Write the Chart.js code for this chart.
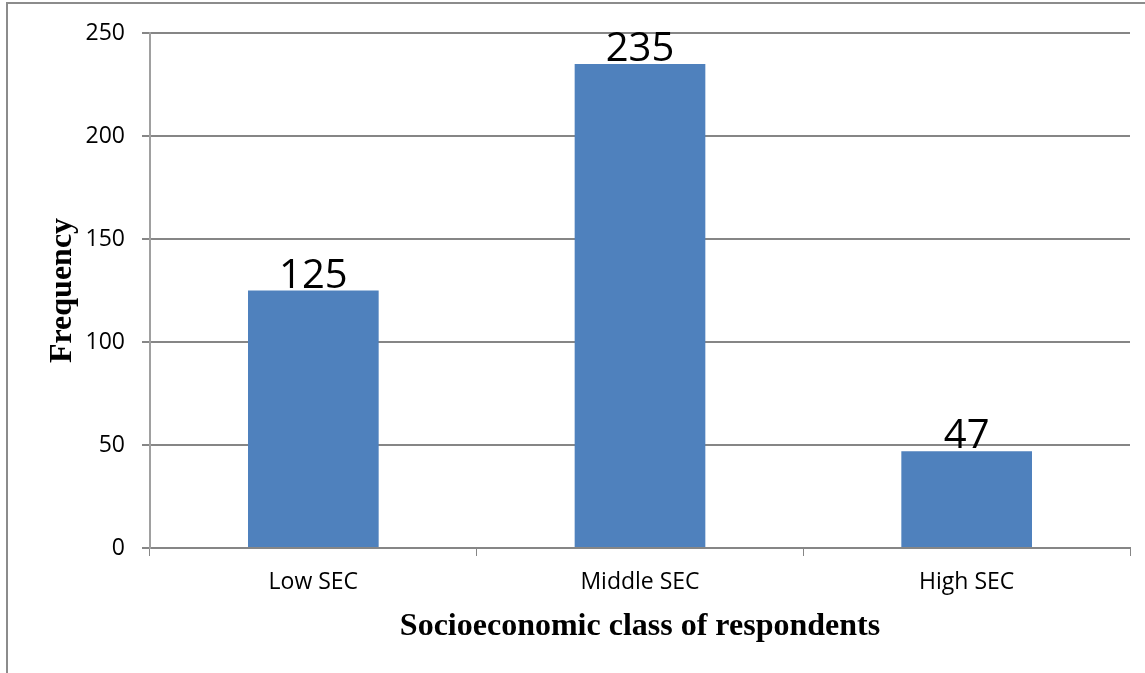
<!DOCTYPE html>
<html>
<head>
<meta charset="utf-8">
<script src="https://cdn.jsdelivr.net/npm/chart.js@4/dist/chart.umd.min.js"></script>
<style>
  html, body { margin: 0; padding: 0; background: #ffffff; }
  #wrap { width: 1145px; height: 673px; position: relative; }
</style>
</head>
<body>
<div id="wrap"><canvas id="c" width="1145" height="673"></canvas></div>
<script>
const categories = ['Low SEC', 'Middle SEC', 'High SEC'];
const frequency = [125, 235, 47];
const yTicks = [0, 50, 100, 150, 200, 250];
const xTitle = 'Socioeconomic class of respondents';
const yTitle = 'Frequency';

const frameLines = {
  id: 'frameLines',
  beforeDraw(chart) {
    const ctx = chart.ctx;
    ctx.save();
    ctx.strokeStyle = '#8c8c8c';
    ctx.lineWidth = 2;
    ctx.beginPath();
    ctx.moveTo(7, 673);
    ctx.lineTo(7, 3);
    ctx.lineTo(1145, 3);
    ctx.stroke();
    ctx.restore();
  }
};

const valueLabels = {
  id: 'valueLabels',
  afterDatasetsDraw(chart) {
    const ctx = chart.ctx;
    const meta = chart.getDatasetMeta(0);
    ctx.save();
    ctx.fillStyle = '#000000';
    ctx.font = '40px "Open Sans"';
    ctx.textAlign = 'center';
    ctx.textBaseline = 'alphabetic';
    meta.data.forEach((bar, i) => {
      ctx.fillText(String(chart.data.datasets[0].data[i]), bar.x, bar.y - 3);
    });
    ctx.restore();
  }
};

new Chart(document.getElementById('c'), {
  type: 'bar',
  data: {
    labels: categories,
    datasets: [{
      label: yTitle,
      data: frequency,
      backgroundColor: '#4F81BD',
      borderWidth: 0,
      barPercentage: 0.4,
      categoryPercentage: 1.0
    }]
  },
  options: {
    responsive: false,
    animation: false,
    devicePixelRatio: 1,
    layout: { padding: { left: 0, top: 33, right: 15, bottom: 0 } },
    plugins: {
      legend: { display: false },
      tooltip: { enabled: false }
    },
    scales: {
      x: {
        offset: true,
        grid: {
          offset: true,
          drawOnChartArea: false,
          drawTicks: true,
          tickLength: 8,
          color: '#868686',
          lineWidth: 1
        },
        border: { display: true, color: '#868686', width: 2 },
        ticks: {
          color: '#000000',
          font: { family: '"Open Sans"', size: 23 },
          padding: 13
        },
        title: {
          display: true,
          text: xTitle,
          color: '#000000',
          font: { family: '"Liberation Serif"', size: 32, weight: 'bold' },
          padding: { top: 27, bottom: 27 }
        },
        afterFit(scale) { scale.height = 125; }
      },
      y: {
        min: 0,
        max: 250,
        afterBuildTicks(scale) { scale.ticks = yTicks.map(v => ({ value: v })); },
        grid: {
          color: '#868686',
          lineWidth: 2,
          tickLength: 8
        },
        border: { display: true, color: '#A0A0A0', width: 2 },
        ticks: {
          color: '#000000',
          font: { family: '"Open Sans"', size: 23 },
          padding: 17
        },
        title: {
          display: true,
          text: yTitle,
          color: '#000000',
          font: { family: '"Liberation Serif"', size: 32, weight: 'bold' },
          padding: { top: 44, bottom: 44 }
        },
        afterFit(scale) { scale.width = 150; }
      }
    }
  },
  plugins: [frameLines, valueLabels]
});
</script>
</body>
</html>
